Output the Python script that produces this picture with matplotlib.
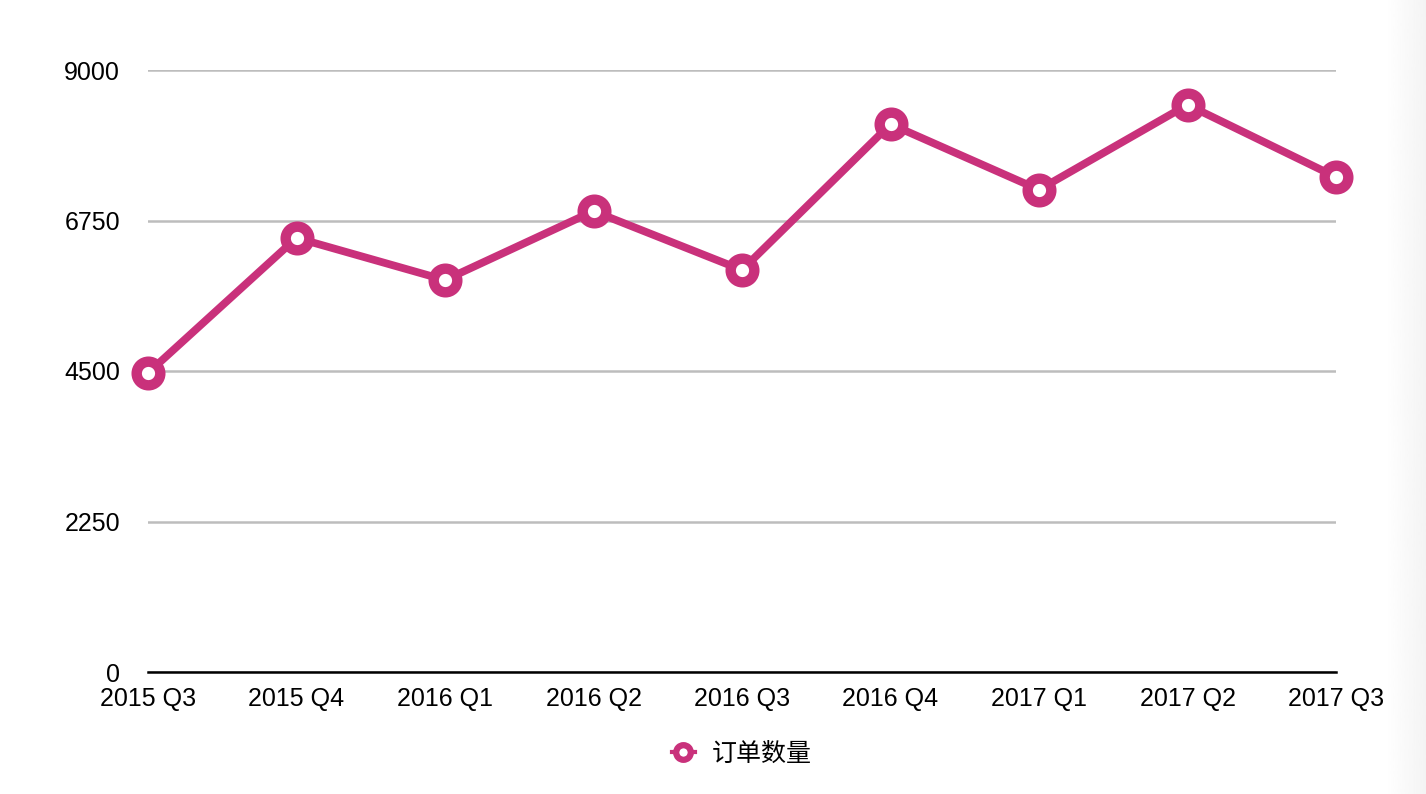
import numpy as np
import matplotlib.pyplot as plt

quarters = ['2015 Q3', '2015 Q4', '2016 Q1', '2016 Q2', '2016 Q3',
            '2016 Q4', '2017 Q1', '2017 Q2', '2017 Q3']
orders = [4470, 6490, 5860, 6890, 6010, 8190, 7210, 8480, 7400]
yticks = [0, 2250, 4500, 6750, 9000]
series_name = '订单数量'

plt.rcParams['font.family'] = ['Liberation Sans', 'Noto Sans CJK SC', 'DejaVu Sans']

fig = plt.figure(figsize=(14.26, 7.94), dpi=100)
ax = fig.add_axes([148 / 1426, 1 - 672 / 794, (1336 - 148) / 1426, (672 - 70) / 794])

color = '#c9317b'
x = np.arange(len(quarters))
ax.plot(x, orders, color=color, lw=5.6, marker='o', ms=17, mfc='white',
        mec=color, mew=7.5, clip_on=False, zorder=5, label=series_name)

ax.set_xlim(0, len(quarters) - 1)
ax.set_ylim(0, 9000)
ax.set_yticks(yticks)
ax.set_yticklabels([str(v) for v in yticks])
ax.set_xticks(x)
ax.set_xticklabels(quarters)
ax.grid(axis='y', color='#bdbdbd', lw=1.8)
ax.set_axisbelow(True)
for s in ['top', 'right', 'left']:
    ax.spines[s].set_visible(False)
ax.spines['bottom'].set_color('black')
ax.spines['bottom'].set_linewidth(1.8)
ax.spines['bottom'].set_zorder(3)
ax.tick_params(axis='both', length=0, labelsize=18)
ax.tick_params(axis='y', pad=20)
ax.tick_params(axis='x', pad=11)

leg = fig.legend(loc='center', bbox_to_anchor=(0.52, 1 - 754 / 794), frameon=False,
                 prop={'family': ['Noto Sans CJK SC', 'DejaVu Sans'], 'size': 18},
                 markerscale=0.62, handlelength=0.95, handletextpad=0.65)
for h in leg.legend_handles:
    h.set_linewidth(3)
    h.set_markeredgewidth(4.5)

# faint grey strip at the right edge
gax = fig.add_axes([1385 / 1426, 0, 41 / 1426, 1])
grad = np.linspace(1.0, 0.955, 64).reshape(1, -1)
gax.imshow(grad, cmap='gray', vmin=0, vmax=1, aspect='auto', extent=(0, 1, 0, 1))
gax.axis('off')

fig.savefig('out.png', dpi=100)
